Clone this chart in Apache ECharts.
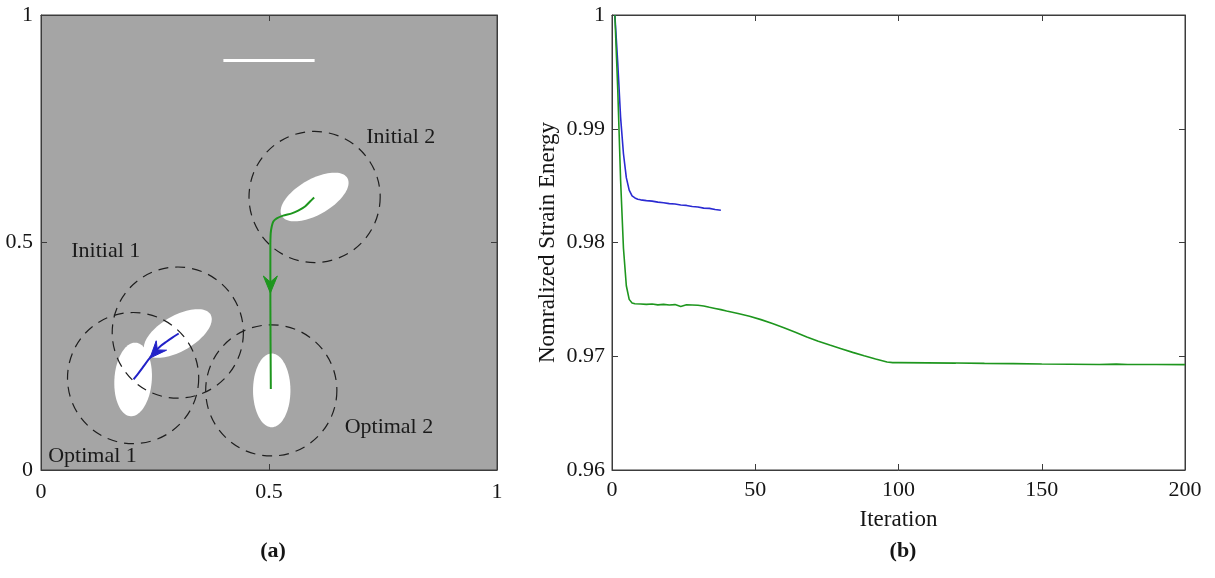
<!DOCTYPE html>
<html>
<head>
<meta charset="utf-8">
<script src="https://cdn.jsdelivr.net/npm/echarts@6/dist/echarts.min.js"></script>
<style>
html,body{margin:0;padding:0;background:#fff;}
#chart{width:1215px;height:578px;}
</style>
</head>
<body>
<div id="chart"></div>
<script>
// ---------- Panel (a) data ----------
const ellipseX = [0.6, 0.3, 0.202, 0.506];
const ellipseY = [0.6, 0.3, 0.199, 0.175];
const ellipseA = [0.083, 0.083, 0.081, 0.081];      // semi-major
const ellipseB = [0.039, 0.039, 0.041, 0.041];      // semi-minor
const ellipseAngle = [30, 30, 86, 90];               // degrees

const circleX = [0.6, 0.3, 0.202, 0.505];
const circleY = [0.6, 0.302, 0.202, 0.175];
const circleR = [0.144, 0.144, 0.144, 0.144];

const labelNames = ['Initial 2', 'Initial 1', 'Optimal 2', 'Optimal 1'];
const labelX = [0.789, 0.142, 0.763, 0.113];
const labelY = [0.732, 0.481, 0.095, 0.031];

const scaleBarX = [0.4, 0.6];
const scaleBarY = [0.9, 0.9];

const greenPathX = [0.599, 0.590, 0.579, 0.564, 0.550, 0.531, 0.517, 0.5095, 0.506, 0.5037, 0.503, 0.503, 0.504];
const greenPathY = [0.599, 0.590, 0.579, 0.570, 0.564, 0.559, 0.553, 0.546, 0.535, 0.520, 0.491, 0.374, 0.178];

const bluePathX = [0.302, 0.288, 0.275, 0.263, 0.252, 0.241, 0.230, 0.220, 0.211, 0.203];
const bluePathY = [0.300, 0.291, 0.282, 0.273, 0.262, 0.249, 0.235, 0.221, 0.209, 0.199];

// arrowheads: tip point and a point behind it along the path
const arrowTipX = [0.503, 0.239];
const arrowTipY = [0.389, 0.246];
const arrowBackX = [0.503, 0.258];
const arrowBackY = [0.45, 0.267];
const arrowColor = ['#1e961e', '#2222c8'];

// ---------- Panel (b) data ----------
const blueIter = [1, 2, 3, 4, 5, 6, 7, 8, 9, 10, 12, 14, 16, 18, 20, 22, 24, 26, 28, 30, 32, 34, 36, 38];
const blueEnergy = [1.0, 0.9958, 0.9910, 0.9878, 0.9857, 0.9846, 0.9841, 0.98392, 0.98381, 0.98375,
  0.98368, 0.98364, 0.98355, 0.98350, 0.98342, 0.98338, 0.98330, 0.98326, 0.98316, 0.98312,
  0.98302, 0.98300, 0.98290, 0.98284];

const greenIter = [1, 2, 3, 4, 5, 6, 7, 8, 10, 12, 14, 16, 18, 20, 22, 24, 26, 28, 30, 32, 34, 36, 38, 40,
  44, 48, 52, 56, 60, 64, 68, 72, 76, 80, 84, 88, 92, 96, 98, 100, 110, 120, 130, 140, 150, 160, 170, 176, 180, 190, 200];
const greenEnergy = [1.0, 0.9935, 0.9855, 0.9795, 0.9762, 0.9750, 0.97468, 0.97462, 0.97460, 0.97456,
  0.97460, 0.97452, 0.97456, 0.97450, 0.97454, 0.97438, 0.97452, 0.97450, 0.97448, 0.97442,
  0.97430, 0.97420, 0.97410, 0.97398, 0.97376, 0.97352, 0.97322, 0.97288, 0.97250, 0.97210,
  0.97170, 0.97132, 0.97098, 0.97066, 0.97034, 0.97004, 0.96976, 0.96950, 0.96944, 0.96944,
  0.96942, 0.96940, 0.96937, 0.96935, 0.96932, 0.96930, 0.96927, 0.96931, 0.96928, 0.96927, 0.96926];

const xTicksA = [0, 0.5, 1];
const xTicksB = [0, 50, 100, 150, 200];
const yTicksB = [0.96, 0.97, 0.98, 0.99, 1];

// ---------- chart ----------
const FONT = 'Liberation Serif';
const txt = '#151515';
const boxColor = '#3c3c3c';
const TICK_FS = 22;

function axisCommon(extra) {
  return Object.assign({
    type: 'value',
    axisLine: { show: true, onZero: false, lineStyle: { color: boxColor, width: 1 } },
    axisTick: { show: true, inside: true, length: 6, lineStyle: { color: boxColor } },
    splitLine: { show: false },
    axisLabel: { show: true, color: txt, fontFamily: FONT, fontSize: TICK_FS }
  }, extra);
}

const ellipseData = ellipseX.map((x, i) => [x, ellipseY[i], ellipseA[i], ellipseB[i], ellipseAngle[i]]);
const circleData = circleX.map((x, i) => [x, circleY[i], circleR[i]]);
const labelData = labelX.map((x, i) => [x, labelY[i]]);
const arrowData = arrowTipX.map((x, i) => [x, arrowTipY[i], arrowBackX[i], arrowBackY[i]]);

const option = {
  animation: false,
  backgroundColor: '#fff',
  title: [
    { text: '(a)', left: 268, top: 535, textAlign: 'center',
      textStyle: { fontFamily: FONT, fontWeight: 'bold', fontSize: 22, color: txt } },
    { text: '(b)', left: 898, top: 535, textAlign: 'center',
      textStyle: { fontFamily: FONT, fontWeight: 'bold', fontSize: 22, color: txt } }
  ],
  grid: [
    { left: 41, top: 15, width: 456, height: 455, show: true, backgroundColor: '#a5a5a5', borderColor: boxColor, borderWidth: 1 },
    { left: 612, top: 15, width: 573, height: 455, show: true, backgroundColor: '#fff', borderColor: boxColor, borderWidth: 1 }
  ],
  xAxis: [
    axisCommon({ gridIndex: 0, min: xTicksA[0], max: xTicksA[xTicksA.length - 1], interval: 0.5, position: 'bottom',
      axisLabel: { color: txt, fontFamily: FONT, fontSize: TICK_FS, margin: 11 } }),
    axisCommon({ gridIndex: 0, min: 0, max: 1, interval: 0.5, position: 'top', axisLabel: { show: false } }),
    axisCommon({ gridIndex: 1, min: xTicksB[0], max: xTicksB[xTicksB.length - 1], interval: 50, position: 'bottom',
      name: 'Iteration', nameLocation: 'middle', nameGap: 38,
      nameTextStyle: { fontFamily: FONT, fontSize: 23, color: txt },
      axisLabel: { color: txt, fontFamily: FONT, fontSize: TICK_FS, margin: 9 } }),
    axisCommon({ gridIndex: 1, min: 0, max: 200, interval: 50, position: 'top', axisLabel: { show: false } })
  ],
  yAxis: [
    axisCommon({ gridIndex: 0, min: 0, max: 1, interval: 0.5, position: 'left',
      axisLabel: { color: txt, fontFamily: FONT, fontSize: TICK_FS, margin: 8 } }),
    axisCommon({ gridIndex: 0, min: 0, max: 1, interval: 0.5, position: 'right', axisLabel: { show: false } }),
    axisCommon({ gridIndex: 1, min: yTicksB[0], max: yTicksB[yTicksB.length - 1], interval: 0.01, position: 'left',
      name: 'Nomralized Strain Energy', nameLocation: 'middle', nameGap: 53, nameRotate: 90,
      nameTextStyle: { fontFamily: FONT, fontSize: 23, color: txt },
      axisLabel: { color: txt, fontFamily: FONT, fontSize: TICK_FS, margin: 7 } }),
    axisCommon({ gridIndex: 1, min: 0.96, max: 1, interval: 0.01, position: 'right', axisLabel: { show: false } })
  ],
  series: [
    {
      type: 'custom', name: 'ellipses', xAxisIndex: 0, yAxisIndex: 0, z: 2,
      data: ellipseData,
      encode: { x: 0, y: 1 },
      renderItem: function (params, api) {
        const cx = api.value(0), cy = api.value(1), a = api.value(2), b = api.value(3);
        const th = api.value(4) * Math.PI / 180;
        const pts = [];
        for (let k = 0; k < 90; k++) {
          const t = k / 90 * 2 * Math.PI;
          const px = cx + a * Math.cos(t) * Math.cos(th) - b * Math.sin(t) * Math.sin(th);
          const py = cy + a * Math.cos(t) * Math.sin(th) + b * Math.sin(t) * Math.cos(th);
          pts.push(api.coord([px, py]));
        }
        return { type: 'polygon', shape: { points: pts }, style: { fill: '#ffffff', stroke: null } };
      }
    },
    {
      type: 'custom', name: 'circles', xAxisIndex: 0, yAxisIndex: 0, z: 3,
      data: circleData,
      encode: { x: 0, y: 1 },
      renderItem: function (params, api) {
        const c = api.coord([api.value(0), api.value(1)]);
        const r = api.size([api.value(2), api.value(2)]);
        return { type: 'circle', shape: { cx: c[0], cy: c[1], r: (r[0] + r[1]) / 2 },
          style: { fill: 'none', stroke: '#1e1e1e', lineWidth: 1.2, lineDash: [10, 7] } };
      }
    },
    {
      type: 'line', name: 'scalebar', xAxisIndex: 0, yAxisIndex: 0, z: 3,
      data: scaleBarX.map((x, i) => [x, scaleBarY[i]]),
      showSymbol: false, lineStyle: { color: '#ffffff', width: 3 }
    },
    {
      type: 'line', name: 'greenPath', xAxisIndex: 0, yAxisIndex: 0, z: 4,
      data: greenPathX.map((x, i) => [x, greenPathY[i]]),
      smooth: 0.2, showSymbol: false, lineStyle: { color: '#1e961e', width: 2 }
    },
    {
      type: 'line', name: 'bluePath', xAxisIndex: 0, yAxisIndex: 0, z: 4,
      data: bluePathX.map((x, i) => [x, bluePathY[i]]),
      smooth: 0.3, showSymbol: false, lineStyle: { color: '#2222c8', width: 2 }
    },
    {
      type: 'custom', name: 'arrows', xAxisIndex: 0, yAxisIndex: 0, z: 5,
      data: arrowData,
      encode: { x: 0, y: 1 },
      renderItem: function (params, api) {
        const T = api.coord([api.value(0), api.value(1)]);
        const B = api.coord([api.value(2), api.value(3)]);
        let dx = T[0] - B[0], dy = T[1] - B[1];
        const len = Math.sqrt(dx * dx + dy * dy);
        dx /= len; dy /= len;
        const nx = -dy, ny = dx;
        const L = 17, W = 7, N = 11;
        const pts = [
          T,
          [T[0] - L * dx + W * nx, T[1] - L * dy + W * ny],
          [T[0] - N * dx, T[1] - N * dy],
          [T[0] - L * dx - W * nx, T[1] - L * dy - W * ny]
        ];
        return { type: 'polygon', shape: { points: pts },
          style: { fill: arrowColor[params.dataIndex], stroke: arrowColor[params.dataIndex], lineWidth: 1 } };
      }
    },
    {
      type: 'custom', name: 'labels', xAxisIndex: 0, yAxisIndex: 0, z: 5,
      data: labelData,
      encode: { x: 0, y: 1 },
      renderItem: function (params, api) {
        const c = api.coord([api.value(0), api.value(1)]);
        return { type: 'text', x: c[0], y: c[1],
          style: { text: labelNames[params.dataIndex], fontFamily: FONT, fontSize: 22, fill: '#1a1a1a',
            align: 'center', verticalAlign: 'middle' } };
      }
    },
    {
      type: 'line', name: 'blue', xAxisIndex: 2, yAxisIndex: 2,
      data: blueIter.map((x, i) => [x, blueEnergy[i]]),
      showSymbol: false, lineStyle: { color: '#2b2bd2', width: 1.6 }
    },
    {
      type: 'line', name: 'green', xAxisIndex: 2, yAxisIndex: 2,
      data: greenIter.map((x, i) => [x, greenEnergy[i]]),
      showSymbol: false, lineStyle: { color: '#1e961e', width: 1.6 }
    }
  ]
};

const chart = echarts.init(document.getElementById('chart'), null, { renderer: 'canvas' });
chart.setOption(option);
</script>
</body>
</html>
